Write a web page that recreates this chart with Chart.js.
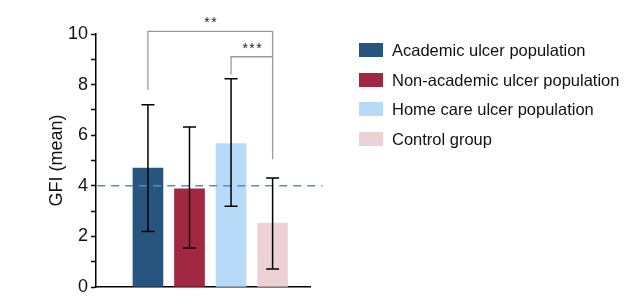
<!DOCTYPE html>
<html>
<head>
<meta charset="utf-8">
<script src="https://cdn.jsdelivr.net/npm/chart.js@4"></script>
<style>
  body { margin: 0; background: #fff; }
  #wrap { position: relative; width: 630px; height: 308px; }
  #legend { position: absolute; left: 359px; top: 41px; font-family: "Liberation Sans", Arial, sans-serif; font-size: 16.5px; color: #111; }
  #legend div { height: 29.5px; display: flex; align-items: flex-start; }
  #legend span.box { width: 24px; height: 14px; margin-right: 9px; margin-top: 2px; }
  #legend span.txt { line-height: 18px; }
</style>
</head>
<body>
<div id="wrap">
  <canvas id="gfiChart" width="630" height="308"></canvas>
  <div id="legend"></div>
</div>
<script>
const groups = ['Academic ulcer population', 'Non-academic ulcer population', 'Home care ulcer population', 'Control group'];
const gfiMean = [4.7, 3.88, 5.67, 2.53];
const errUpper = [7.2, 6.32, 8.23, 4.31];
const errLower = [2.19, 1.54, 3.19, 0.71];
const barColors = ['rgb(40,85,125)', 'rgb(160,40,66)', 'rgb(183,218,248)', 'rgb(237,210,213)'];
const threshold = 4;
// significance brackets: bar indices, height of top line, where each leg ends
const brackets = [
    { from: 0, to: 3, top: 10.1, leftEnd: 7.8, rightEnd: 5.05, label: '**' },
    { from: 2, to: 3, top: 9.1, leftEnd: 8.4, rightEnd: 9.1, label: '***' }
];

// legend (html)
const legendEl = document.getElementById('legend');
groups.forEach((g, i) => {
    const row = document.createElement('div');
    row.innerHTML = '<span class="box" style="background:' + barColors[i] + '"></span><span class="txt">' + g + '</span>';
    legendEl.appendChild(row);
});

const extras = {
    id: 'extras',
    afterDatasetsDraw(chart) {
        const ctx = chart.ctx;
        const xs = chart.scales.x, ys = chart.scales.y;
        const meta = chart.getDatasetMeta(0);
        ctx.save();

        // dashed threshold line
        ctx.strokeStyle = 'rgb(74,144,217)';
        ctx.lineWidth = 1.4;
        ctx.setLineDash([8, 6]);
        ctx.beginPath();
        ctx.moveTo(xs.getPixelForValue(-1.22), ys.getPixelForValue(threshold));
        ctx.lineTo(xs.getPixelForValue(4.2), ys.getPixelForValue(threshold));
        ctx.stroke();
        ctx.setLineDash([]);

        // error bars
        ctx.strokeStyle = '#000';
        ctx.lineWidth = 1.5;
        meta.data.forEach((bar, i) => {
            const top = ys.getPixelForValue(errUpper[i]);
            const bot = ys.getPixelForValue(errLower[i]);
            ctx.beginPath();
            ctx.moveTo(bar.x, top); ctx.lineTo(bar.x, bot);
            ctx.moveTo(bar.x - 6.5, top); ctx.lineTo(bar.x + 6.5, top);
            ctx.moveTo(bar.x - 6.5, bot); ctx.lineTo(bar.x + 6.5, bot);
            ctx.stroke();
        });

        // brackets
        ctx.strokeStyle = '#999';
        ctx.lineWidth = 1.3;
        ctx.fillStyle = '#222';
        ctx.font = '14px "Liberation Sans", Arial, sans-serif';
        ctx.letterSpacing = '1.5px';
        ctx.textAlign = 'center';
        ctx.textBaseline = 'bottom';
        brackets.forEach(b => {
            const x1 = meta.data[b.from].x, x2 = meta.data[b.to].x;
            const yt = ys.getPixelForValue(b.top);
            ctx.beginPath();
            ctx.moveTo(x1, ys.getPixelForValue(b.leftEnd));
            ctx.lineTo(x1, yt);
            ctx.lineTo(x2, yt);
            ctx.lineTo(x2, ys.getPixelForValue(b.rightEnd));
            ctx.stroke();
            ctx.fillText(b.label, (x1 + x2) / 2 + 1, yt - 1);
        });
        ctx.restore();
    }
};

new Chart(document.getElementById('gfiChart'), {
    type: 'bar',
    data: {
        datasets: [{
            data: gfiMean.map((v, i) => ({ x: i, y: v })),
            backgroundColor: barColors,
            barThickness: 30
        }]
    },
    options: {
        responsive: false,
        animation: false,
        layout: { padding: { left: 46, right: 320, top: 34, bottom: 0 } },
        plugins: { legend: { display: false }, tooltip: { enabled: false } },
        scales: {
            x: {
                type: 'linear',
                min: -1.25,
                max: 3.9,
                offset: false,
                grid: { display: false, drawTicks: false },
                border: { color: '#000', width: 1.5 },
                ticks: { display: false },
                afterFit(scale) { scale.height = 21; }
            },
            y: {
                min: 0,
                max: 10,
                grid: { drawOnChartArea: false, tickLength: 5, color: '#000', tickWidth: 1.5 },
                border: { color: '#000', width: 1.5 },
                ticks: {
                    stepSize: 1,
                    color: '#111',
                    padding: 3,
                    font: { family: '"Liberation Sans", Arial, sans-serif', size: 18 },
                    callback: v => (v % 2 === 0 ? v : '')
                },
                title: {
                    display: true,
                    text: 'GFI (mean)',
                    color: '#111',
                    font: { family: '"Liberation Sans", Arial, sans-serif', size: 18 },
                    padding: { top: 0, bottom: 0 }
                },
                afterFit(scale) { scale.width = 50; }
            }
        }
    },
    plugins: [extras]
});
</script>
</body>
</html>
